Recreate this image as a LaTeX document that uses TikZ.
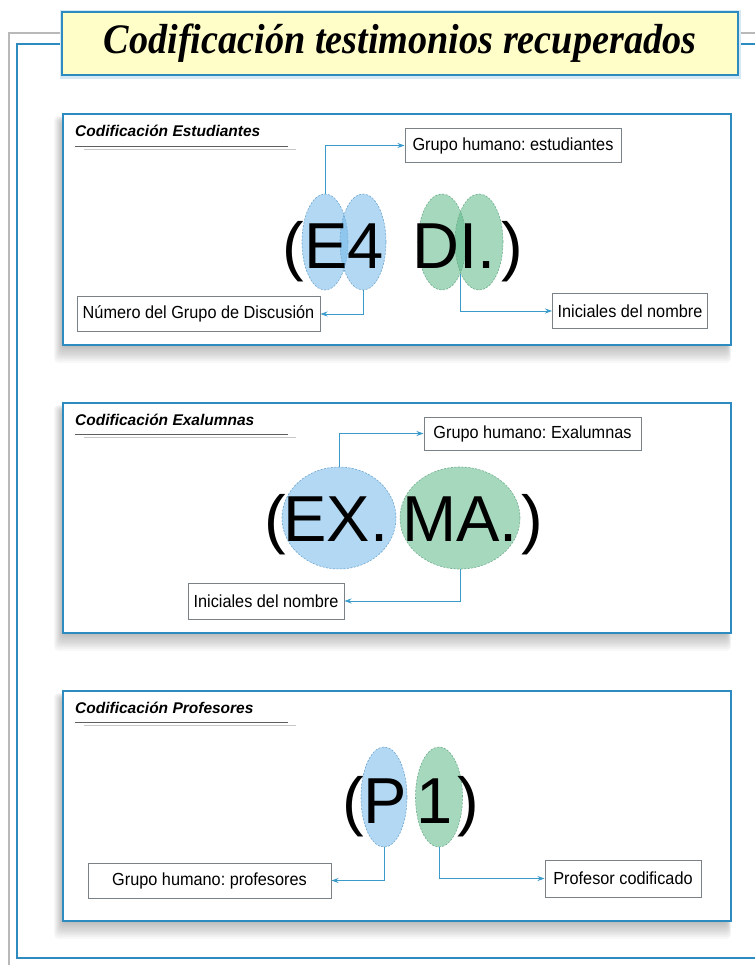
\documentclass[tikz,border=0pt]{standalone}
\usepackage{fontspec}
\setmainfont{Liberation Sans}
\newfontfamily\titlefont{Liberation Serif}
\usetikzlibrary{arrows.meta,shapes.geometric}
\definecolor{frameblue}{HTML}{2E8BC0}
\definecolor{linkblue}{HTML}{3A9BCB}
\definecolor{bluefill}{HTML}{73B9EA}
\definecolor{greenfill}{HTML}{5DB88A}
\definecolor{blueedge}{HTML}{6FA6CF}
\definecolor{greenedge}{HTML}{6FAE8C}
\definecolor{titlefill}{HTML}{FFFDC8}
\definecolor{boxedge}{HTML}{7A8288}
\frenchspacing
\newcommand\pshadow[4]{%
  \foreach \i in {1,...,10}{%
    \fill[black,opacity=0.028,rounded corners=4pt] ({#1-0.9*\i},{#2+8-0.6*\i}) rectangle ({#3-4+0.4*\i},{#4+1.8*\i});}}
\newcommand\lbl[1]{\scalebox{0.93}[1]{#1}}
\begin{document}
\begin{tikzpicture}[x=1pt,y=-1pt,
  panel/.style={draw=frameblue,line width=2pt,fill=white},
  header/.style={anchor=west,inner sep=0pt,font=\bfseries\itshape\fontsize{15.5}{18}\selectfont},
  label/.style={draw=boxedge,line width=1pt,fill=white,inner sep=0pt,font=\fontsize{17.5}{20}\selectfont},
  bellip/.style={ellipse,inner sep=0pt,draw=blueedge,dash pattern=on 2pt off 1.5pt,line width=0.6pt,fill=bluefill,fill opacity=0.55},
  gellip/.style={ellipse,inner sep=0pt,draw=greenedge,dash pattern=on 2pt off 1.5pt,line width=0.6pt,fill=greenfill,fill opacity=0.55},
  bigtxt/.style={anchor=base,inner sep=0pt,font=\fontsize{65}{70}\selectfont},
  link/.style={draw=linkblue,line width=0.8pt,-{Stealth[length=7pt,width=5pt]}}
]
\useasboundingbox (0,0) rectangle (755,965);
\fill[white] (0,0) rectangle (755,965);
% outer frames
\draw[gray!55,line width=1.3pt] (9,965) -- (9,33) -- (62,33);
\draw[gray!55,line width=1.3pt] (738,33) -- (755,33);
\draw[frameblue,line width=2.8pt] (755,958) -- (17,958) -- (17,44) -- (62,44);
\draw[frameblue,line width=2.8pt] (738,44) -- (755,44);
% title
\fill[frameblue!20] (60,10) rectangle (741,79);
\node[draw=frameblue,line width=2pt,fill=titlefill,minimum width=676pt,minimum height=63pt,inner sep=0pt,
  font=\titlefont\bfseries\itshape\fontsize{42}{48}\selectfont] (title) at (400,43.5) {\scalebox{0.91}[1]{Codificación testimonios recuperados}};

% ---------- panel 1 ----------
\pshadow{63}{114}{731}{345}
\draw[panel] (63,114) rectangle (731,345);
\node[header] (h1) at (75,131) {Codificación Estudiantes};
\draw[gray!75!black,line width=0.8pt] (75,146) -- (288,146);
\draw[gray!45,line width=0.8pt] (84,149) -- (296,149);
\node[bellip,minimum width=46pt,minimum height=96pt] (b1) at (325,242) {};
\node[bellip,minimum width=46pt,minimum height=96pt] (b2) at (363,242) {};
\node[gellip,minimum width=48pt,minimum height=96pt] (g1) at (442,242) {};
\node[gellip,minimum width=48pt,minimum height=96pt] (g2) at (479,242) {};
\node[bigtxt] (lp1) at (293,269) {(};
\node[bigtxt] (e4) at (344,269) {E4};
\node[bigtxt] (di) at (454,269) {DI.};
\node[bigtxt] (rp1) at (512,269) {)};
\node[label,minimum width=216pt,minimum height=34pt] (ba) at (513,145.5) {\lbl{Grupo humano: estudiantes}};
\node[label,minimum width=243pt,minimum height=35pt] (bb) at (198.5,314) {\lbl{Número del Grupo de Discusión}};
\node[label,minimum width=155pt,minimum height=35pt] (bc) at (630,311) {\lbl{Iniciales del nombre}};
\draw[link] (b1.north) |- (ba.west);
\draw[link] (b2.south) |- (bb.east);
\draw[link] (g1.-60) |- (bc.west);

% ---------- panel 2 ----------
\pshadow{63}{403}{731}{633}
\draw[panel] (63,403) rectangle (731,633);
\node[header] (h2) at (75,420) {Codificación Exalumnas};
\draw[gray!75!black,line width=0.8pt] (75,434) -- (288,434);
\draw[gray!45,line width=0.8pt] (84,437) -- (296,437);
\node[bellip,minimum width=114pt,minimum height=102pt] (bx) at (339,518) {};
\node[gellip,minimum width=120pt,minimum height=102pt] (gx) at (460,518) {};
\node[bigtxt] (lp2) at (275,541) {(};
\node[bigtxt] (ex) at (336,541) {EX.};
\node[bigtxt] (ma) at (460,541) {MA.};
\node[bigtxt] (rp2) at (532,541) {)};
\node[label,minimum width=217pt,minimum height=33pt] (bd) at (532.5,433.5) {\lbl{Grupo humano: Exalumnas}};
\node[label,minimum width=156pt,minimum height=36pt] (be) at (266,601) {\lbl{Iniciales del nombre}};
\draw[link] (bx.north) |- (bd.west);
\draw[link] (gx.south) |- (be.east);

% ---------- panel 3 ----------
\pshadow{63}{691}{731}{921}
\draw[panel] (63,691) rectangle (731,921);
\node[header] (h3) at (75,708) {Codificación Profesores};
\draw[gray!75!black,line width=0.8pt] (75,722) -- (288,722);
\draw[gray!45,line width=0.8pt] (84,725) -- (296,725);
\node[bellip,minimum width=46pt,minimum height=100pt] (bp) at (384,797) {};
\node[gellip,minimum width=47pt,minimum height=100pt] (g1p) at (439,797) {};
\node[bigtxt] (lp3) at (353,823) {(};
\node[bigtxt] (pp) at (385,823) {P};
\node[bigtxt] (one) at (435,823) {1};
\node[bigtxt] (rp3) at (468,823) {)};
\node[label,minimum width=243pt,minimum height=35pt] (bf) at (209.5,880.5) {\lbl{Grupo humano: profesores}};
\node[label,minimum width=156pt,minimum height=37pt] (bg) at (623,878.5) {\lbl{Profesor codificado}};
\draw[link] (bp.south) |- (bf.east);
\draw[link] (g1p.south) |- (bg.west);
\end{tikzpicture}
\end{document}
